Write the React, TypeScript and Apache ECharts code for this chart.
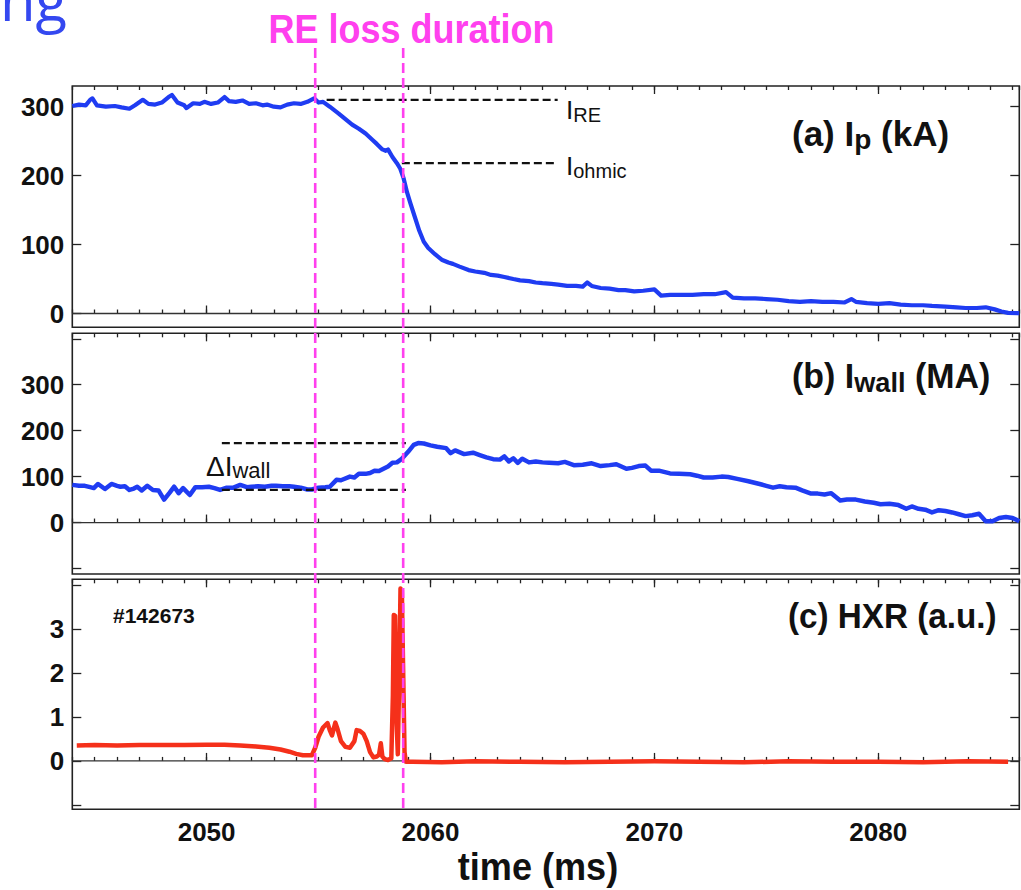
import React, { useEffect, useRef } from 'react';
import * as echarts from 'echarts';

// ---------- data ----------
const X_MIN = 2044;
const X_MAX = 2086.3;
const X_LABELS = [2050, 2060, 2070, 2080];
const LOSS_START = 2054.85;
const LOSS_END = 2058.78;

const ipTime = [
  2044.0, 2044.3, 2044.6, 2044.8, 2044.9, 2045.1, 2045.5, 2045.9, 2046.2, 2046.55,
  2046.8, 2047.15, 2047.4, 2047.7, 2048.0, 2048.3, 2048.45, 2048.7, 2049.0, 2049.1,
  2049.4, 2049.7, 2049.9, 2050.2, 2050.5, 2050.8, 2051.0, 2051.3, 2051.6, 2051.9,
  2052.2, 2052.5, 2052.7, 2053.0, 2053.3, 2053.6, 2053.9, 2054.2, 2054.5, 2054.8,
  2055.0, 2055.2, 2055.5, 2055.9, 2056.2, 2056.5, 2056.8, 2057.1, 2057.4, 2057.6,
  2057.85, 2058.0, 2058.1, 2058.3, 2058.5, 2058.65, 2058.8, 2058.95, 2059.1, 2059.3,
  2059.5, 2059.7, 2059.9, 2060.2, 2060.5, 2060.8, 2061.0, 2061.3, 2061.7, 2062.0,
  2062.4, 2062.7, 2063.0, 2063.3, 2063.7, 2064.0, 2064.4, 2064.7, 2065.0, 2065.4,
  2065.7, 2066.1, 2066.5, 2066.8, 2067.0, 2067.2, 2067.6, 2068.0, 2068.4, 2068.7,
  2069.1, 2069.5, 2070.0, 2070.3, 2070.7, 2071.2, 2071.7, 2072.2, 2072.7, 2073.2,
  2073.5, 2074.0, 2074.5, 2075.0, 2075.5, 2076.0, 2076.5, 2077.0, 2077.5, 2078.0,
  2078.5, 2078.8, 2079.0, 2079.5, 2080.0, 2080.5, 2081.0, 2081.5, 2082.0, 2082.4,
  2083.0, 2083.5, 2083.9, 2084.4, 2084.8, 2085.2, 2085.5, 2085.8, 2086.3,
];
const ipValue = [
  301, 303, 302, 310, 312, 302, 300, 301, 299, 297,
  302, 310, 304, 303, 306, 314, 317, 306, 302, 298,
  305, 304, 307, 304, 306, 314, 308, 307, 309, 304,
  305, 302, 303, 300, 299, 303, 305, 304, 307, 312,
  306, 307, 300, 290, 282, 274, 268, 261, 252, 246,
  238, 236, 238, 227, 218, 210, 196, 176, 160, 140,
  120, 104, 95, 86, 78, 74, 72, 68, 63, 61,
  59, 56, 55, 53, 50, 48, 47, 45, 44, 43,
  42, 40, 40, 39, 45, 40, 37, 36, 34, 34,
  32, 33, 35, 26, 27, 27, 27, 28, 28, 31,
  23, 22, 22, 21, 20, 18, 17, 18, 17, 17,
  16, 21, 17, 15, 14, 15, 13, 12, 12, 11,
  10, 9, 8, 8, 9, 6, 3, 1, 0.5,
];

const iwallTime = [
  2044.0, 2044.3, 2044.56, 2044.8, 2044.96, 2045.15, 2045.46, 2045.75, 2046.0, 2046.15,
  2046.35, 2046.55, 2046.75, 2046.9, 2047.1, 2047.35, 2047.6, 2047.85, 2048.1, 2048.35,
  2048.55, 2048.75, 2048.95, 2049.25, 2049.5, 2049.8, 2050.1, 2050.35, 2050.6, 2050.9,
  2051.2, 2051.5, 2051.8, 2052.0, 2052.3, 2052.6, 2052.9, 2053.1, 2053.4, 2053.7,
  2053.9, 2054.2, 2054.5, 2054.7, 2055.0, 2055.3, 2055.5, 2055.8, 2056.0, 2056.4,
  2056.6, 2056.8, 2057.1, 2057.3, 2057.5, 2057.7, 2057.9, 2058.1, 2058.3, 2058.5,
  2058.7, 2059.0, 2059.25, 2059.45, 2059.7, 2060.0, 2060.3, 2060.7, 2060.9, 2061.1,
  2061.5, 2061.9, 2062.2, 2062.5, 2062.8, 2063.1, 2063.3, 2063.5, 2063.7, 2063.9,
  2064.1, 2064.4, 2064.7, 2065.0, 2065.3, 2065.7, 2066.0, 2066.4, 2066.8, 2067.2,
  2067.6, 2068.0, 2068.3, 2068.75, 2069.0, 2069.3, 2069.6, 2069.85, 2070.2, 2070.7,
  2071.1, 2071.6, 2071.9, 2072.2, 2072.6, 2073.0, 2073.3, 2073.7, 2074.2, 2074.7,
  2075.0, 2075.3, 2075.6, 2075.9, 2076.3, 2076.6, 2077.0, 2077.3, 2077.6, 2077.9,
  2078.3, 2078.6, 2079.0, 2079.4, 2079.8, 2080.1, 2080.5, 2080.9, 2081.25, 2081.5,
  2081.8, 2082.1, 2082.4, 2082.7, 2083.0, 2083.3, 2083.6, 2083.9, 2084.2, 2084.5,
  2084.8, 2085.1, 2085.4, 2085.7, 2086.0, 2086.3,
];
const iwallValue = [
  82, 80, 80, 77, 75, 84, 73, 84, 80, 78,
  79, 71, 74, 78, 70, 80, 71, 70, 50, 65,
  78, 64, 75, 60, 77, 77, 78, 75, 71, 76,
  76, 82, 77, 78, 79, 78, 80, 80, 79, 79,
  78, 76, 72, 72, 76, 77, 78, 93, 92, 100,
  98, 106, 106, 108, 113, 112, 117, 122, 130, 131,
  138, 154, 169, 173, 172, 168, 165, 162, 151, 157,
  149, 152, 147, 142, 138, 137, 144, 133, 140, 130,
  139, 131, 133, 131, 130, 129, 132, 125, 126, 129,
  123, 125, 127, 117, 119, 123, 124, 113, 113, 107,
  106, 105, 102, 98, 98, 100, 99, 95, 90, 84,
  80, 76, 79, 77, 76, 70, 63, 63, 61, 64,
  48, 50, 50, 46, 43, 40, 41, 38, 30, 35,
  30, 28, 22, 27, 25, 22, 18, 14, 16, 19,
  3, 3, 10, 12, 10, 3,
];

const hxrTime = [
  2044.2, 2045.0, 2046.0, 2047.0, 2048.0, 2049.0, 2050.0, 2050.8, 2051.5, 2052.2,
  2052.8, 2053.3, 2053.7, 2054.0, 2054.3, 2054.7, 2054.85, 2055.0, 2055.2, 2055.4,
  2055.5, 2055.6, 2055.75, 2055.85, 2056.0, 2056.2, 2056.4, 2056.6, 2056.7, 2056.85,
  2057.0, 2057.15, 2057.3, 2057.45, 2057.6, 2057.7, 2057.78, 2057.85, 2057.95, 2058.1,
  2058.25, 2058.32, 2058.36, 2058.42, 2058.48, 2058.54, 2058.6, 2058.66, 2058.72, 2058.78,
  2058.84, 2058.9, 2059.2, 2060.5, 2062.0, 2064.0, 2066.0, 2068.0, 2070.0, 2072.0,
  2074.0, 2076.0, 2078.0, 2080.0, 2082.0, 2084.0, 2085.8,
];
const hxrValue = [
  0.35, 0.36, 0.35, 0.36, 0.36, 0.36, 0.37, 0.37, 0.35, 0.33,
  0.30, 0.26, 0.21, 0.16, 0.13, 0.13, 0.3, 0.55, 0.76, 0.86,
  0.70, 0.58, 0.87, 0.72, 0.45, 0.32, 0.30, 0.45, 0.70, 0.68,
  0.62, 0.45, 0.20, 0.08, 0.10, 0.14, 0.40, 0.10, 0.04, 0.02,
  0.06, 1.5, 3.32, 3.30, 1.0, 0.15, 1.8, 3.92, 3.88, 2.0,
  0.2, -0.02, -0.02, -0.03, -0.01, -0.02, -0.03, -0.02, -0.01, -0.02,
  -0.03, -0.01, -0.02, -0.02, -0.03, -0.01, -0.02,
];

// y-axis tick values
const ipLabels = [0, 100, 200, 300];
const ipTicks = [0, 100, 200, 300];
const iwallLabels = [0, 100, 200, 300];
const iwallTicks = [-100, 0, 100, 200, 300, 400];
const hxrLabels = [0, 1, 2, 3];
const hxrTicks = [-1, 0, 1, 2, 3, 4];

// annotation levels (dashed reference lines)
const iReLevel = 310;
const iReSpan = [2055.36, 2065.68];
const iOhmicLevel = 218;
const iOhmicSpan = [2058.72, 2065.68];
const dIwallUpper = 173;
const dIwallLower = 71;
const dIwallSpan = [2050.68, 2058.9];

// ---------- styles ----------
const SANS = "'Liberation Sans', Arial, Helvetica, sans-serif";
const BLUE = '#1f3cf2';
const RED = '#f5301a';
const MAGENTA = '#ff40ee';
const FRAME = '#222';

const GRIDS = [
  { top: 86, height: 241.3, min: -20, max: 330, labels: ipLabels, ticks: ipTicks },
  { top: 333.3, height: 240.7, min: -112, max: 412, labels: iwallLabels, ticks: iwallTicks },
  { top: 579.3, height: 230, min: -1.1, max: 4.13, labels: hxrLabels, ticks: hxrTicks },
];
const GRID_LEFT = 72.3;
const GRID_WIDTH = 947;

const labelFont = { fontFamily: SANS, fontWeight: 'bold' as const, fontSize: 26, color: '#111' };
const tickLine = { color: FRAME, width: 1.3 };
const plain = (v: number) => String(v);

function zip(t: number[], v: number[]) {
  return t.map((x, i) => [x, v[i]]);
}

function buildOption() {
  const grid = GRIDS.map((g) => ({
    left: GRID_LEFT, width: GRID_WIDTH, top: g.top, height: g.height,
    show: true, borderColor: FRAME, borderWidth: 1.6, backgroundColor: 'transparent',
    outerBoundsMode: 'none', containLabel: false,
  }));
  const xAxis: any[] = [];
  const yAxis: any[] = [];
  GRIDS.forEach((g, gi) => {
    const base = { type: 'value', gridIndex: gi, min: X_MIN, max: X_MAX, splitLine: { show: false }, axisLine: { show: false } };
    const last = gi === GRIDS.length - 1;
    xAxis.push(
      { ...base, position: 'bottom', interval: 1, axisTick: { inside: true, length: 4, lineStyle: tickLine }, axisLabel: { show: false } },
      { ...base, position: 'bottom', axisTick: { inside: true, length: 8, customValues: X_LABELS, lineStyle: tickLine },
        axisLabel: last ? { ...labelFont, customValues: X_LABELS, margin: 10, formatter: plain } : { show: false } },
      { ...base, position: 'top', interval: 1, axisTick: { inside: true, length: 4, lineStyle: tickLine }, axisLabel: { show: false } },
      { ...base, position: 'top', axisTick: { inside: true, length: 8, customValues: X_LABELS, lineStyle: tickLine }, axisLabel: { show: false } },
    );
    const ybase = { type: 'value', gridIndex: gi, min: g.min, max: g.max, splitLine: { show: false }, axisLine: { show: false } };
    yAxis.push(
      { ...ybase, position: 'left', axisTick: { inside: true, length: 9, customValues: g.ticks, lineStyle: tickLine },
        axisLabel: { ...labelFont, customValues: g.labels, margin: 8, formatter: plain } },
      { ...ybase, position: 'right', axisTick: { inside: true, length: 9, customValues: g.ticks, lineStyle: tickLine },
        axisLabel: { show: false } },
    );
  });

  const zeroLine = (gi: number) => ({
    type: 'line', xAxisIndex: gi * 4, yAxisIndex: gi * 2, data: [[X_MIN, 0], [X_MAX, 0]],
    showSymbol: false, silent: true, z: 1, lineStyle: { color: '#333', width: 1.3 },
  });
  const dashed = (gi: number, span: number[], level: number) => ({
    type: 'line', xAxisIndex: gi * 4, yAxisIndex: gi * 2, data: [[span[0], level], [span[1], level]],
    showSymbol: false, silent: true, z: 3, lineStyle: { color: '#111', width: 2.2, type: [8, 4] },
  });
  const trace = (gi: number, t: number[], v: number[], color: string, width: number) => ({
    type: 'line', xAxisIndex: gi * 4, yAxisIndex: gi * 2, data: zip(t, v),
    showSymbol: false, silent: true, z: 2, lineStyle: { color, width, join: 'round' },
  });

  const series = [
    zeroLine(0), zeroLine(1), zeroLine(2),
    trace(0, ipTime, ipValue, BLUE, 4.2),
    trace(1, iwallTime, iwallValue, BLUE, 4.5),
    trace(2, hxrTime, hxrValue, RED, 4.5),
    dashed(0, iReSpan, iReLevel),
    dashed(0, iOhmicSpan, iOhmicLevel),
    dashed(1, dIwallSpan, dIwallUpper),
    dashed(1, dIwallSpan, dIwallLower),
  ];

  return { animation: false, backgroundColor: '#fff', grid, xAxis, yAxis, series };
}

function txt(x: number, y: number, text: string, rich: any, scaleX = 1) {
  return {
    type: 'text', x, y, z: 50, scaleX,
    style: { text, rich, x: 0, y: 0, align: 'left', textAlign: 'left', verticalAlign: 'middle', textVerticalAlign: 'middle' },
  };
}

export default function App() {
  const ref = useRef<HTMLDivElement>(null);
  useEffect(() => {
    const el = ref.current!;
    const chart = echarts.init(el, null, { renderer: 'svg', width: 1021, height: 890 });
    chart.setOption(buildOption() as any);

    const xs = [LOSS_START, LOSS_END].map((t) => chart.convertToPixel({ xAxisIndex: 0 } as any, t) as unknown as number);
    const bigB = { fontFamily: SANS, fontWeight: 'bold', fontSize: 35, lineHeight: 40, fill: '#111' };
    const subB = { fontFamily: SANS, fontWeight: 'bold', fontSize: 28, lineHeight: 18, verticalAlign: 'bottom', fill: '#111' };
    const bigN = { fontFamily: SANS, fontWeight: 'normal', fontSize: 26, lineHeight: 30, fill: '#111' };
    const subN = { fontFamily: SANS, fontWeight: 'normal', fontSize: 20, lineHeight: 12, verticalAlign: 'bottom', fill: '#111' };

    const graphic: any[] = [
      ...xs.map((x, i) => ({
        type: 'line', id: 'loss' + i, z: 60, silent: true,
        shape: { x1: x, y1: 48, x2: x, y2: 809.3 },
        style: { stroke: MAGENTA, lineWidth: 2.6, lineDash: [10, 5] },
      })),
      {
        type: 'text', x: 411.5, y: 29, z: 50, scaleX: 0.9,
        style: { text: 'RE loss duration', x: 0, y: 0, fontFamily: SANS, fontWeight: 'bold', fontSize: 40, fill: MAGENTA,
          align: 'center', textAlign: 'center', verticalAlign: 'middle', textVerticalAlign: 'middle' },
      },
      {
        type: 'text', x: 0, y: -2, z: 50,
        style: { text: 'ng', x: 0, y: 0, fontFamily: "'Open Sans', 'Noto Sans', sans-serif", fontWeight: 'normal', fontSize: 58, fill: '#3448f0',
          align: 'left', textAlign: 'left', verticalAlign: 'middle', textVerticalAlign: 'middle' },
      },
      {
        type: 'text', x: 538, y: 867, z: 50, scaleX: 0.95,
        style: { text: 'time (ms)', x: 0, y: 0, fontFamily: SANS, fontWeight: 'bold', fontSize: 38, fill: '#111',
          align: 'center', textAlign: 'center', verticalAlign: 'middle', textVerticalAlign: 'middle' },
      },
      txt(792, 133, '{m|(a) I}{s|p}{m| (kA)}', { m: bigB, s: subB }),
      txt(792, 376, '{m|(b) I}{s|wall}{m| (MA)}', { m: bigB, s: subB }, 0.97),
      txt(788, 616, '{m|(c) HXR (a.u.)}', { m: bigB }, 0.95),
      txt(113, 615, '{m|#142673}', { m: { fontFamily: SANS, fontWeight: 'bold', fontSize: 21, fill: '#111' } }),
      txt(566, 110, '{m|I}{s|RE}', { m: bigN, s: subN }),
      txt(566, 166, '{m|I}{s|ohmic}', { m: bigN, s: subN }),
      txt(206, 466, '{m|\u0394I}{s|wall}', { m: { ...bigN, fontSize: 28 }, s: { ...subN, fontSize: 22 } }),
    ];
    chart.setOption({ graphic });
    return () => chart.dispose();
  }, []);
  return <div ref={ref} style={{ position: 'absolute', left: 0, top: 0, width: 1021, height: 890 }} />;
}
